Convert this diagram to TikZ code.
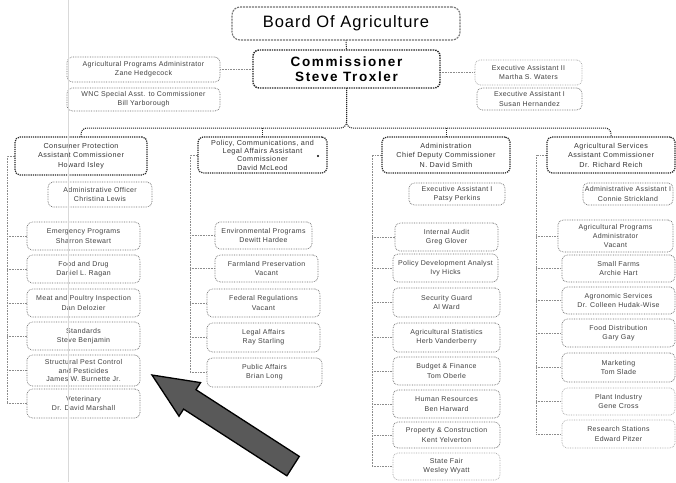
\documentclass[tikz,border=0pt]{standalone}
\usepackage{fontspec}
\setmainfont{Liberation Sans}
\newfontfamily\boxfnt[LetterSpace=5]{Liberation Sans}
\newfontfamily\headfnt[LetterSpace=6]{Liberation Sans}
\newfontfamily\commfnt[LetterSpace=12]{Liberation Sans}
\newfontfamily\boardfnt[LetterSpace=6]{Liberation Sans}
\usetikzlibrary{backgrounds}
\newcommand\bx[7]{\node[#6, minimum width={(#4-#2)*1pt}, minimum height={(#5-#3)*1pt}] (#1) at ({(#2+#4)/2},{(#3+#5)/2}) {#7};}
\tikzset{
  bx/.style={draw=black!60, densely dotted, line width=0.7pt, rounded corners=5pt, fill=white,
    align=center, inner sep=0pt, outer sep=0pt, text=black!75,
    font={\boxfnt\fontsize{7}{9.3}\selectfont}},
  bxthree/.style={bx, font={\boxfnt\fontsize{7}{8.6}\selectfont}},
  lightbx/.style={bx, draw=black!35},
  headbox/.style={bx, draw=black!85, line width=1.2pt, text=black!80,
    font={\headfnt\fontsize{7.2}{9.5}\selectfont}},
  headfour/.style={headbox, font={\headfnt\fontsize{7.2}{8.3}\selectfont}},
  commst/.style={headbox, line width=1.4pt, rounded corners=6pt, text=black,
    font={\commfnt\bfseries\fontsize{13.5}{15}\selectfont}},
  boardst/.style={draw=black!55, dashed, dash pattern=on 2pt off 1pt, line width=1.1pt,
    rounded corners=8pt, fill=white, align=center, inner sep=0pt, outer sep=0pt, text=black,
    font={\boardfnt\fontsize{16.5}{18}\selectfont}},
  conn/.style={draw=black!45, densely dotted, line width=0.6pt},
  bus/.style={draw=black!85, densely dotted, line width=1pt},
}
\begin{document}
\begin{tikzpicture}[x=1pt,y=-1pt]
\useasboundingbox (0,0) rectangle (676,482);
% top
\bx{board}{232}{7}{460}{40}{boardst}{Board Of Agriculture}
\bx{comm}{253}{50}{440}{88}{commst}{Commissioner\\Steve Troxler}
\bx{la1}{67}{57}{220}{82}{bx}{Agricultural Programs Administrator\\Zane Hedgecock}
\bx{la2}{67}{88}{220}{111}{bx}{WNC Special Asst. to Commissioner\\Bill Yarborough}
\bx{ra1}{475}{60}{582}{85}{lightbx}{Executive Assistant II\\Martha S. Waters}
\bx{ra2}{477}{88}{582}{110}{bx}{Executive Assistant I\\Susan Hernandez}
% heads
\bx{ch1}{15}{137}{147}{175}{headbox}{Consumer Protection\\Assistant Commissioner\\Howard Isley}
\bx{ch2}{198}{137}{327}{173}{headfour}{Policy, Communications, and\\Legal Affairs Assistant\\Commissioner\\David McLeod}
\bx{ch3}{382}{137}{510}{173}{headbox}{Administration\\Chief Deputy Commissioner\\N. David Smith}
\bx{ch4}{547}{137}{675}{173}{headbox}{Agricultural Services\\Assistant Commissioner\\Dr. Richard Reich}
% column 1
\bx{ao}{48}{182}{152}{207}{bx}{Administrative Officer\\Christina Lewis}
\bx{c1a}{27}{222}{140}{250}{bx}{Emergency Programs\\Sharron Stewart}
\bx{c1b}{27}{255}{140}{283}{bx}{Food and Drug\\Daniel L. Ragan}
\bx{c1c}{27}{289}{140}{317}{bx}{Meat and Poultry Inspection\\Dan Delozier}
\bx{c1d}{27}{322}{140}{350}{bx}{Standards\\Steve Benjamin}
\bx{c1e}{27}{355}{140}{386}{bxthree}{Structural Pest Control\\and Pesticides\\James W. Burnette Jr.}
\bx{c1f}{27}{389}{140}{418}{bx}{Veterinary\\Dr. David Marshall}
% column 2
\bx{c2a}{215}{222}{312}{249}{bx}{Environmental Programs\\Dewitt Hardee}
\bx{c2b}{215}{255}{318}{282}{bx}{Farmland Preservation\\Vacant}
\bx{c2c}{207}{289}{320}{317}{bx}{Federal Regulations\\Vacant}
\bx{c2d}{207}{323}{320}{352}{bx}{Legal Affairs\\Ray Starling}
\bx{c2e}{207}{358}{322}{387}{bx}{Public Affairs\\Brian Long}
% column 3
\bx{ea}{409}{183}{505}{205}{bx}{Executive Assistant I\\Patsy Perkins}
\bx{c3a}{395}{223}{498}{251}{bx}{Internal Audit\\Greg Glover}
\bx{c3b}{393}{254}{498}{282}{bx}{Policy Development Analyst\\Ivy Hicks}
\bx{c3c}{393}{288}{500}{317}{bx}{Security Guard\\Al Ward}
\bx{c3d}{393}{323}{500}{352}{bx}{Agricultural Statistics\\Herb Vanderberry}
\bx{c3e}{393}{357}{500}{385}{bx}{Budget \& Finance\\Tom Oberle}
\bx{c3f}{393}{390}{500}{418}{bx}{Human Resources\\Ben Harward}
\bx{c3g}{393}{422}{500}{448}{bx}{Property \& Construction\\Kent Yelverton}
\bx{c3h}{393}{453}{500}{480}{lightbx}{State Fair\\Wesley Wyatt}
% column 4
\bx{aa}{583}{183}{673}{205}{bx}{Administrative Assistant I\\Connie Strickland}
\bx{c4a}{558}{220}{673}{252}{bxthree}{Agricultural Programs\\Administrator\\Vacant}
\bx{c4b}{562}{255}{675}{282}{bx}{Small Farms\\Archie Hart}
\bx{c4c}{562}{287}{675}{314}{bx}{Agronomic Services\\Dr. Colleen Hudak-Wise}
\bx{c4d}{562}{319}{675}{347}{bx}{Food Distribution\\Gary Gay}
\bx{c4e}{562}{353}{675}{382}{bx}{Marketing\\Tom Slade}
\bx{c4f}{562}{388}{675}{415}{lightbx}{Plant Industry\\Gene Cross}
\bx{c4g}{562}{420}{675}{448}{lightbx}{Research Stations\\Edward Pitzer}
\fill[black] (318,156) circle (1.1pt);
\coordinate (v1) at (7,0);
\coordinate (v2) at (190,0);
\coordinate (v3) at (372,0);
\coordinate (v4) at (536,0);
\begin{pgfonlayer}{background}
\fill[white] (0,0) rectangle (676,482);
\draw[bus] (board.south) -- (comm.north);
\draw[bus, rounded corners=6pt] (comm.south) -- ++(0,40) -| (ch1.north);
\draw[bus, rounded corners=6pt] (comm.south) -- ++(0,40) -| (ch4.north);
\draw[bus] (ch2.north) -- ++(0,-9);
\draw[bus] (ch3.north) -- ++(0,-9);
\draw[conn] (la1.east) -- (la1.east -| comm.west);
\draw[conn] (ra1.west -| comm.east) -- (ra1.west);
\draw[conn] (ch1.west) -- (ch1.west -| v1) -- (c1f.west -| v1);
\foreach \n in {c1a,c1b,c1c,c1d,c1e,c1f} \draw[conn] (\n.west -| v1) -- (\n.west);
\draw[conn] (ch2.west) -- (ch2.west -| v2) -- (c2e.west -| v2);
\foreach \n in {c2a,c2b,c2c,c2d,c2e} \draw[conn] (\n.west -| v2) -- (\n.west);
\draw[conn] (ch3.west) -- (ch3.west -| v3) -- (c3h.west -| v3);
\foreach \n in {c3a,c3b,c3c,c3d,c3e,c3f,c3g,c3h} \draw[conn] (\n.west -| v3) -- (\n.west);
\draw[conn] (ch4.west) -- (ch4.west -| v4) -- (c4g.west -| v4);
\foreach \n in {c4a,c4b,c4c,c4d,c4e,c4f,c4g} \draw[conn] (\n.west -| v4) -- (\n.west);
\end{pgfonlayer}
% faint scan line
\draw[black!15, line width=0.5pt] (68,0) -- (68,482);
% big arrow
\filldraw[fill=black!65, draw=black, line width=1.3pt, line join=miter]
  (152,375) -- (179,416.2) -- (183.6,409.1) -- (286.9,475.8) -- (299.3,456.4)
  -- (196,389.7) -- (200.6,382.6) -- cycle;
\end{tikzpicture}
\end{document}
